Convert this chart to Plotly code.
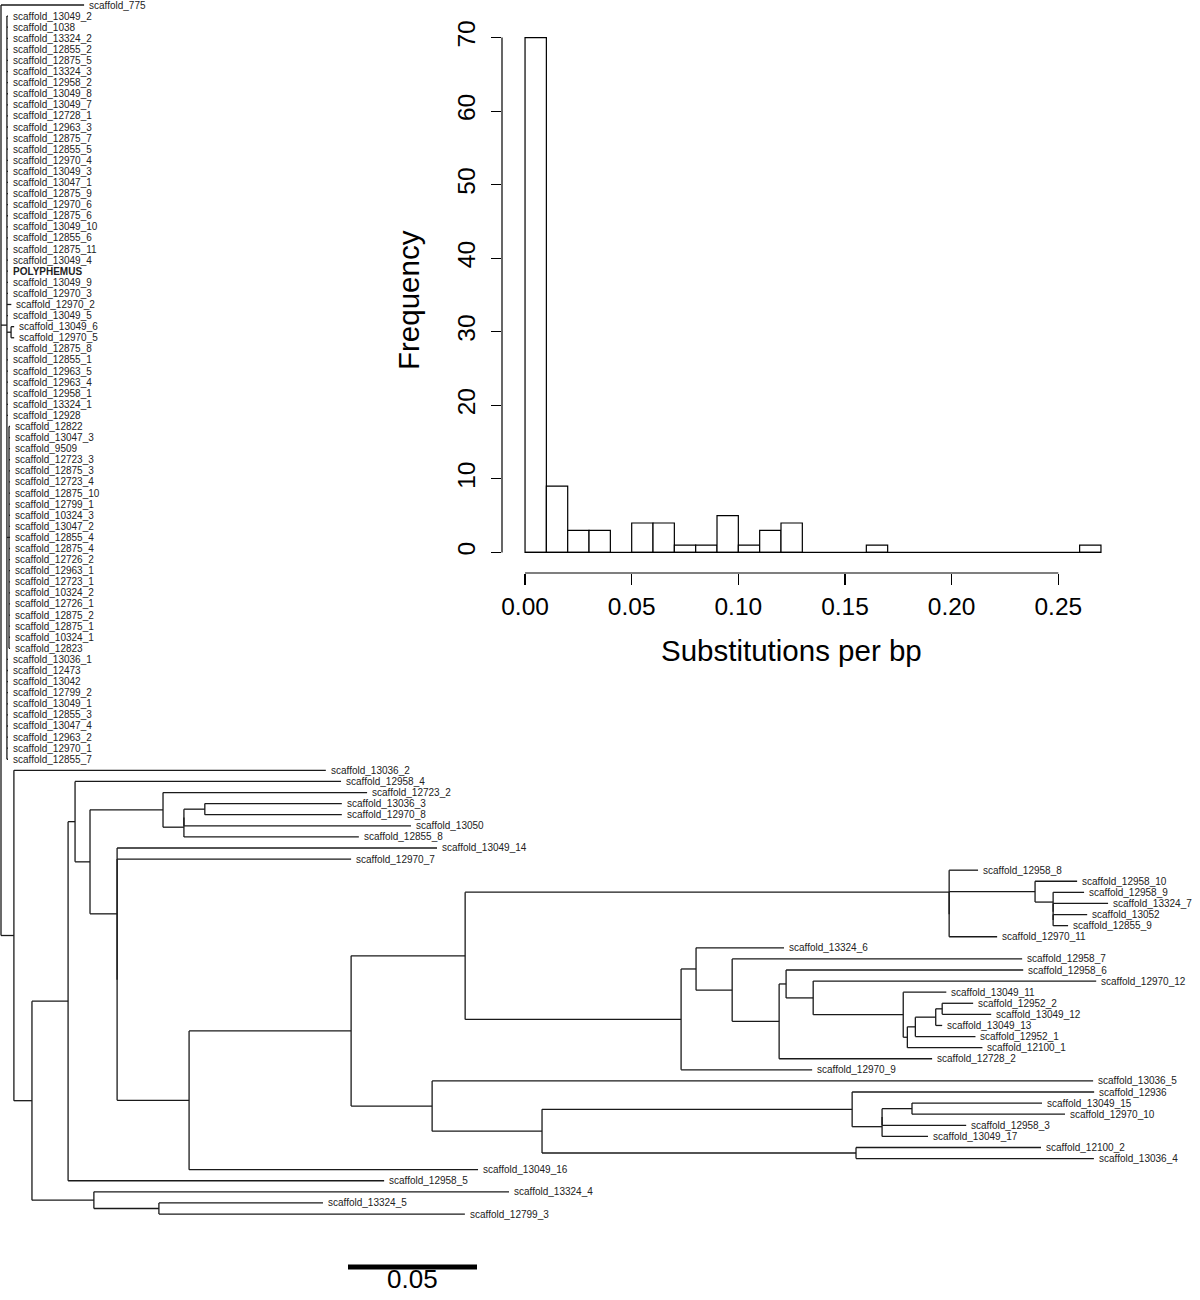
import re
import plotly.graph_objects as go

# ---------------- DATA ----------------
# Phylogenetic tree (Newick, branch lengths in substitutions per bp), assembled from named clades
clade_S = ("(scaffold_12822:0.0004,scaffold_13047_3:0.0004,scaffold_9509:0.0004,"
           "scaffold_12723_3:0.0004,scaffold_12875_3:0.0004,scaffold_12723_4:0.0004,"
           "scaffold_12875_10:0.0004,scaffold_12799_1:0.0004,scaffold_10324_3:0.0004,"
           "scaffold_13047_2:0.0004,scaffold_12855_4:0.0004,scaffold_12875_4:0.0004,"
           "scaffold_12726_2:0.0004,scaffold_12963_1:0.0004,scaffold_12723_1:0.0004,"
           "scaffold_10324_2:0.0004,scaffold_12726_1:0.0004,scaffold_12875_2:0.0004,"
           "scaffold_12875_1:0.0004,scaffold_10324_1:0.0004,scaffold_12823:0.0004)")
clade_T = ("(scaffold_13049_2:0.0004,scaffold_1038:0.0004,scaffold_13324_2:0.0004,scaffold_12855_2:0.0004,"
           "scaffold_12875_5:0.0004,scaffold_13324_3:0.0004,scaffold_12958_2:0.0004,scaffold_13049_8:0.0004,"
           "scaffold_13049_7:0.0004,scaffold_12728_1:0.0004,scaffold_12963_3:0.0004,scaffold_12875_7:0.0004,"
           "scaffold_12855_5:0.0004,scaffold_12970_4:0.0004,scaffold_13049_3:0.0004,scaffold_13047_1:0.0004,"
           "scaffold_12875_9:0.0004,scaffold_12970_6:0.0004,scaffold_12875_6:0.0004,scaffold_13049_10:0.0004,"
           "scaffold_12855_6:0.0004,scaffold_12875_11:0.0004,scaffold_13049_4:0.0004,POLYPHEMUS:0.0004,"
           "scaffold_13049_9:0.0004,scaffold_12970_3:0.0004,scaffold_12970_2:0.0017,scaffold_13049_5:0.0004,"
           "(scaffold_13049_6:0.0012,scaffold_12970_5:0.0012):0.0016,"
           "scaffold_12875_8:0.0004,scaffold_12855_1:0.0004,scaffold_12963_5:0.0004,scaffold_12963_4:0.0004,"
           "scaffold_12958_1:0.0004,scaffold_13324_1:0.0004,scaffold_12928:0.0004,"
           + clade_S + ":0.0008,"
           "scaffold_13036_1:0.0004,scaffold_12473:0.0004,scaffold_13042:0.0004,scaffold_12799_2:0.0004,"
           "scaffold_13049_1:0.0004,scaffold_12855_3:0.0004,scaffold_13047_4:0.0004,scaffold_12963_2:0.0004,"
           "scaffold_12970_1:0.0004,scaffold_12855_7:0.0004)")

clade_Q3b = "(scaffold_13052:0.0132,scaffold_12855_9:0.0058)"
clade_Q3a = "(scaffold_13324_7:0.0213," + clade_Q3b + ":0)"
clade_Q3 = "(scaffold_12958_9:0.0120," + clade_Q3a + ":0)"
clade_Q2 = "(scaffold_12958_10:0.0163," + clade_Q3 + ":0.0070)"
clade_Qb = "(" + clade_Q2 + ":0.0333,scaffold_12970_11:0.0186)"
clade_Q = "(scaffold_12958_8:0.0112," + clade_Qb + ":0)"

clade_R10 = "(scaffold_12952_2:0.0120,scaffold_13049_12:0.0190)"
clade_R9 = "(" + clade_R10 + ":0.0025,scaffold_13049_13:0.0025)"
clade_R8 = "(" + clade_R9 + ":0.0079,scaffold_12952_1:0.0233)"
clade_R7 = "(" + clade_R8 + ":0.0031,scaffold_12100_1:0.0291)"
clade_R6 = "(scaffold_13049_11:0.0167," + clade_R7 + ":0.0016)"
clade_R5 = "(scaffold_12970_12:0.1097," + clade_R6 + ":0.0349)"
clade_R4 = "(scaffold_12958_6:0.0919," + clade_R5 + ":0.0105)"
clade_R3 = "(" + clade_R4 + ":0.0027,scaffold_12728_2:0.0593)"
clade_R2 = "(scaffold_12958_7:0.1124," + clade_R3 + ":0.0182)"
clade_R1 = "(scaffold_13324_6:0.0341," + clade_R2 + ":0.0140)"
clade_R = "(" + clade_R1 + ":0.0058,scaffold_12970_9:0.0508)"
clade_N = "(" + clade_Q + ":0.1876," + clade_R + ":0.0837)"

clade_P6 = "(scaffold_13049_15:0.0504,scaffold_12970_10:0.0593)"
clade_P5a = "(" + clade_P6 + ":0.0116,scaffold_12958_3:0.0326)"
clade_P5 = "(" + clade_P5a + ":0,scaffold_13049_17:0.0178)"
clade_P3 = "(scaffold_12936:0.0938," + clade_P5 + ":0.0116)"
clade_P4 = "(scaffold_12100_2:0.0717,scaffold_13036_4:0.0922)"
clade_P2 = "(" + clade_P3 + ":0.1202," + clade_P4 + ":0.1217)"
clade_P = "(scaffold_13036_5:0.2562," + clade_P2 + ":0.0426)"

clade_M = "(" + clade_N + ":0.0442," + clade_P + ":0.0314)"
clade_K = "(" + clade_M + ":0.0628,scaffold_13049_16:0.1120)"
clade_H2 = "(scaffold_12970_7:0.0907," + clade_K + ":0.0279)"
clade_H = "(scaffold_13049_14:0.1240," + clade_H2 + ":0)"
clade_J = "(scaffold_13036_3:0.0531,scaffold_12970_8:0.0531)"
clade_K0 = "(" + clade_J + ":0.0081,scaffold_13050:0.0880)"
clade_I = "(" + clade_K0 + ":0,scaffold_12855_8:0.0678)"
clade_G = "(scaffold_12723_2:0.0791," + clade_I + ":0.0081)"
clade_F = "(" + clade_G + ":0.0283," + clade_H + ":0.0105)"
clade_E = "(scaffold_12958_4:0.1031," + clade_F + ":0.0058)"
clade_D = "(" + clade_E + ":0.0027,scaffold_12958_5:0.1225)"
clade_L2 = "(scaffold_13324_5:0.0636,scaffold_12799_3:0.1186)"
clade_L = "(scaffold_13324_4:0.1609," + clade_L2 + ":0.0252)"
clade_C = "(" + clade_D + ":0.0140," + clade_L + ":0.0240)"
clade_B = "(scaffold_13036_2:0.1209," + clade_C + ":0.0070)"
tree_newick = "(scaffold_775:0.0322," + clade_T + ":0.0023," + clade_B + ":0.0050);"

scale_bar_length = 0.05
scale_bar_label = "0.05"
bold_tips = ["POLYPHEMUS"]

# Histogram of substitutions per bp
hist_bin_edges = [0.00, 0.01, 0.02, 0.03, 0.04, 0.05, 0.06, 0.07, 0.08, 0.09, 0.10, 0.11, 0.12, 0.13,
                  0.14, 0.15, 0.16, 0.17, 0.18, 0.19, 0.20, 0.21, 0.22, 0.23, 0.24, 0.25, 0.26, 0.27]
hist_counts = [70, 9, 3, 3, 0, 4, 4, 1, 1, 5, 1, 3, 4, 0, 0, 0, 1, 0, 0, 0, 0, 0, 0, 0, 0, 0, 1]
hist_xticks = [0.00, 0.05, 0.10, 0.15, 0.20, 0.25]
hist_xtick_labels = ["0.00", "0.05", "0.10", "0.15", "0.20", "0.25"]
hist_yticks = [0, 10, 20, 30, 40, 50, 60, 70]
hist_xlabel = "Substitutions per bp"
hist_ylabel = "Frequency"

# ---------------- TREE PARSING / LAYOUT ----------------
def parse_newick(s):
    s = re.sub(r"\s+", "", s).rstrip(";")
    pos = 0

    def node():
        nonlocal pos
        n = {"children": [], "name": "", "length": 0.0}
        if s[pos] == "(":
            pos += 1
            while True:
                n["children"].append(node())
                if s[pos] == ",":
                    pos += 1
                    continue
                if s[pos] == ")":
                    pos += 1
                    break
        m = re.match(r"[^:,();]*", s[pos:])
        n["name"] = m.group(0)
        pos += len(m.group(0))
        if pos < len(s) and s[pos] == ":":
            pos += 1
            m = re.match(r"[0-9.eE+\-]+", s[pos:])
            n["length"] = float(m.group(0))
            pos += len(m.group(0))
        return n

    return node()


root = parse_newick(tree_newick)
root["length"] = 0.0
tips = []


def layout(n, x0):
    n["x"] = x0 + n["length"]
    if not n["children"]:
        n["y"] = len(tips)
        tips.append(n)
    else:
        for c in n["children"]:
            layout(c, n["x"])
        n["y"] = sum(c["y"] for c in n["children"]) / len(n["children"])


layout(root, 0.0)

seg_x, seg_y = [], []


def segments(n):
    if n["children"]:
        cy = [c["y"] for c in n["children"]]
        seg_x.extend([n["x"], n["x"], None])
        seg_y.extend([min(cy), max(cy), None])
        for c in n["children"]:
            seg_x.extend([n["x"], c["x"], None])
            seg_y.extend([c["y"], c["y"], None])
            segments(c)


segments(root)

# ---------------- FIGURE ----------------
W, H = 1200, 1300
PX_PER_UNIT = 2580.0      # tree horizontal scale
ROOT_PX = 1.0
TIP0_PX, TIP_STEP = 5.0, 11.092

tree_xrange = [-ROOT_PX / PX_PER_UNIT, (W - ROOT_PX) / PX_PER_UNIT]
tree_yrange = [(H - TIP0_PX) / TIP_STEP, -TIP0_PX / TIP_STEP]

FONT = "Liberation Sans, Arial, Helvetica, sans-serif"
LINE = "#1a1a1a"

fig = go.Figure()
fig.add_trace(go.Scatter(x=seg_x, y=seg_y, mode="lines", xaxis="x", yaxis="y",
                         line=dict(color=LINE, width=1.3), hoverinfo="skip"))

annotations = []
for t in tips:
    txt = "<b>%s</b>" % t["name"] if t["name"] in bold_tips else t["name"]
    annotations.append(dict(x=t["x"], y=t["y"], xref="x", yref="y", text=txt, showarrow=False,
                            xanchor="left", yanchor="middle", xshift=4, borderpad=0,
                            font=dict(family=FONT, size=10, color="#222222")))

# scale bar
sb_x0 = (348 - ROOT_PX) / PX_PER_UNIT
sb_y = (1267 - TIP0_PX) / TIP_STEP
fig.add_trace(go.Scatter(x=[sb_x0, sb_x0 + scale_bar_length], y=[sb_y, sb_y], mode="lines",
                         xaxis="x", yaxis="y", line=dict(color="black", width=5), hoverinfo="skip"))
annotations.append(dict(x=sb_x0 + scale_bar_length / 2, y=(1279 - TIP0_PX) / TIP_STEP, xref="x", yref="y",
                        text=scale_bar_label, showarrow=False, xanchor="center", yanchor="middle",
                        font=dict(family=FONT, size=26, color="black")))

# histogram
centers = [(hist_bin_edges[i] + hist_bin_edges[i + 1]) / 2 for i in range(len(hist_counts)) if hist_counts[i] > 0]
widths = [hist_bin_edges[i + 1] - hist_bin_edges[i] for i in range(len(hist_counts)) if hist_counts[i] > 0]
heights = [c for c in hist_counts if c > 0]
fig.add_trace(go.Bar(x=centers, y=heights, width=widths, xaxis="x2", yaxis="y2",
                     marker=dict(color="white", line=dict(color="black", width=1.2)), hoverinfo="skip"))
fig.add_trace(go.Scatter(x=[hist_bin_edges[0], hist_bin_edges[-1]], y=[0, 0], mode="lines",
                         xaxis="x2", yaxis="y2", line=dict(color="black", width=1.2), hoverinfo="skip"))

xpad = 0.04 * (hist_bin_edges[-1] - hist_bin_edges[0])
ypad = 0.04 * max(hist_counts)

shapes = [
    dict(type="line", xref="x2 domain", yref="y2", x0=0, x1=0, y0=hist_yticks[0], y1=hist_yticks[-1],
         line=dict(color="black", width=1.2)),
    dict(type="line", xref="x2", yref="y2 domain", x0=hist_xticks[0], x1=hist_xticks[-1], y0=0, y1=0,
         line=dict(color="black", width=1.2)),
]

annotations.append(dict(x=408 / W, y=1 - 300 / H, xref="paper", yref="paper", text=hist_ylabel,
                        showarrow=False, textangle=-90, xanchor="center", yanchor="middle",
                        font=dict(family=FONT, size=29.5, color="black")))
annotations.append(dict(x=791 / W, y=1 - 650 / H, xref="paper", yref="paper", text=hist_xlabel,
                        showarrow=False, xanchor="center", yanchor="middle",
                        font=dict(family=FONT, size=29.5, color="black")))

fig.update_layout(
    width=W, height=H, margin=dict(l=0, r=0, t=0, b=0),
    paper_bgcolor="white", plot_bgcolor="rgba(0,0,0,0)", showlegend=False,
    xaxis=dict(domain=[0, 1], range=tree_xrange, visible=False, fixedrange=True),
    yaxis=dict(domain=[0, 1], range=tree_yrange, visible=False, fixedrange=True),
    xaxis2=dict(domain=[502 / W, 1124 / W], range=[hist_bin_edges[0] - xpad, hist_bin_edges[-1] + xpad],
                anchor="y2", tickvals=hist_xticks, ticktext=hist_xtick_labels, ticks="outside",
                ticklen=11, tickwidth=1.2, tickcolor="black", showline=False, showgrid=False,
                zeroline=False, tickfont=dict(family=FONT, size=24.5, color="black"),
                ticklabelstandoff=1),
    yaxis2=dict(domain=[1 - 573 / H, 1 - 17 / H], range=[-ypad, max(hist_counts) + ypad],
                anchor="x2", tickvals=hist_yticks, ticks="outside", ticklen=10, tickwidth=1.2,
                tickcolor="black", tickangle=-90, showline=False, showgrid=False, zeroline=False,
                tickfont=dict(family=FONT, size=24.5, color="black"), ticklabelstandoff=6),
    shapes=shapes, annotations=annotations,
)

fig.write_html("out.html", config={"displayModeBar": False, "staticPlot": True},
               post_script="document.body.style.margin='0';document.body.style.overflow='hidden';")
